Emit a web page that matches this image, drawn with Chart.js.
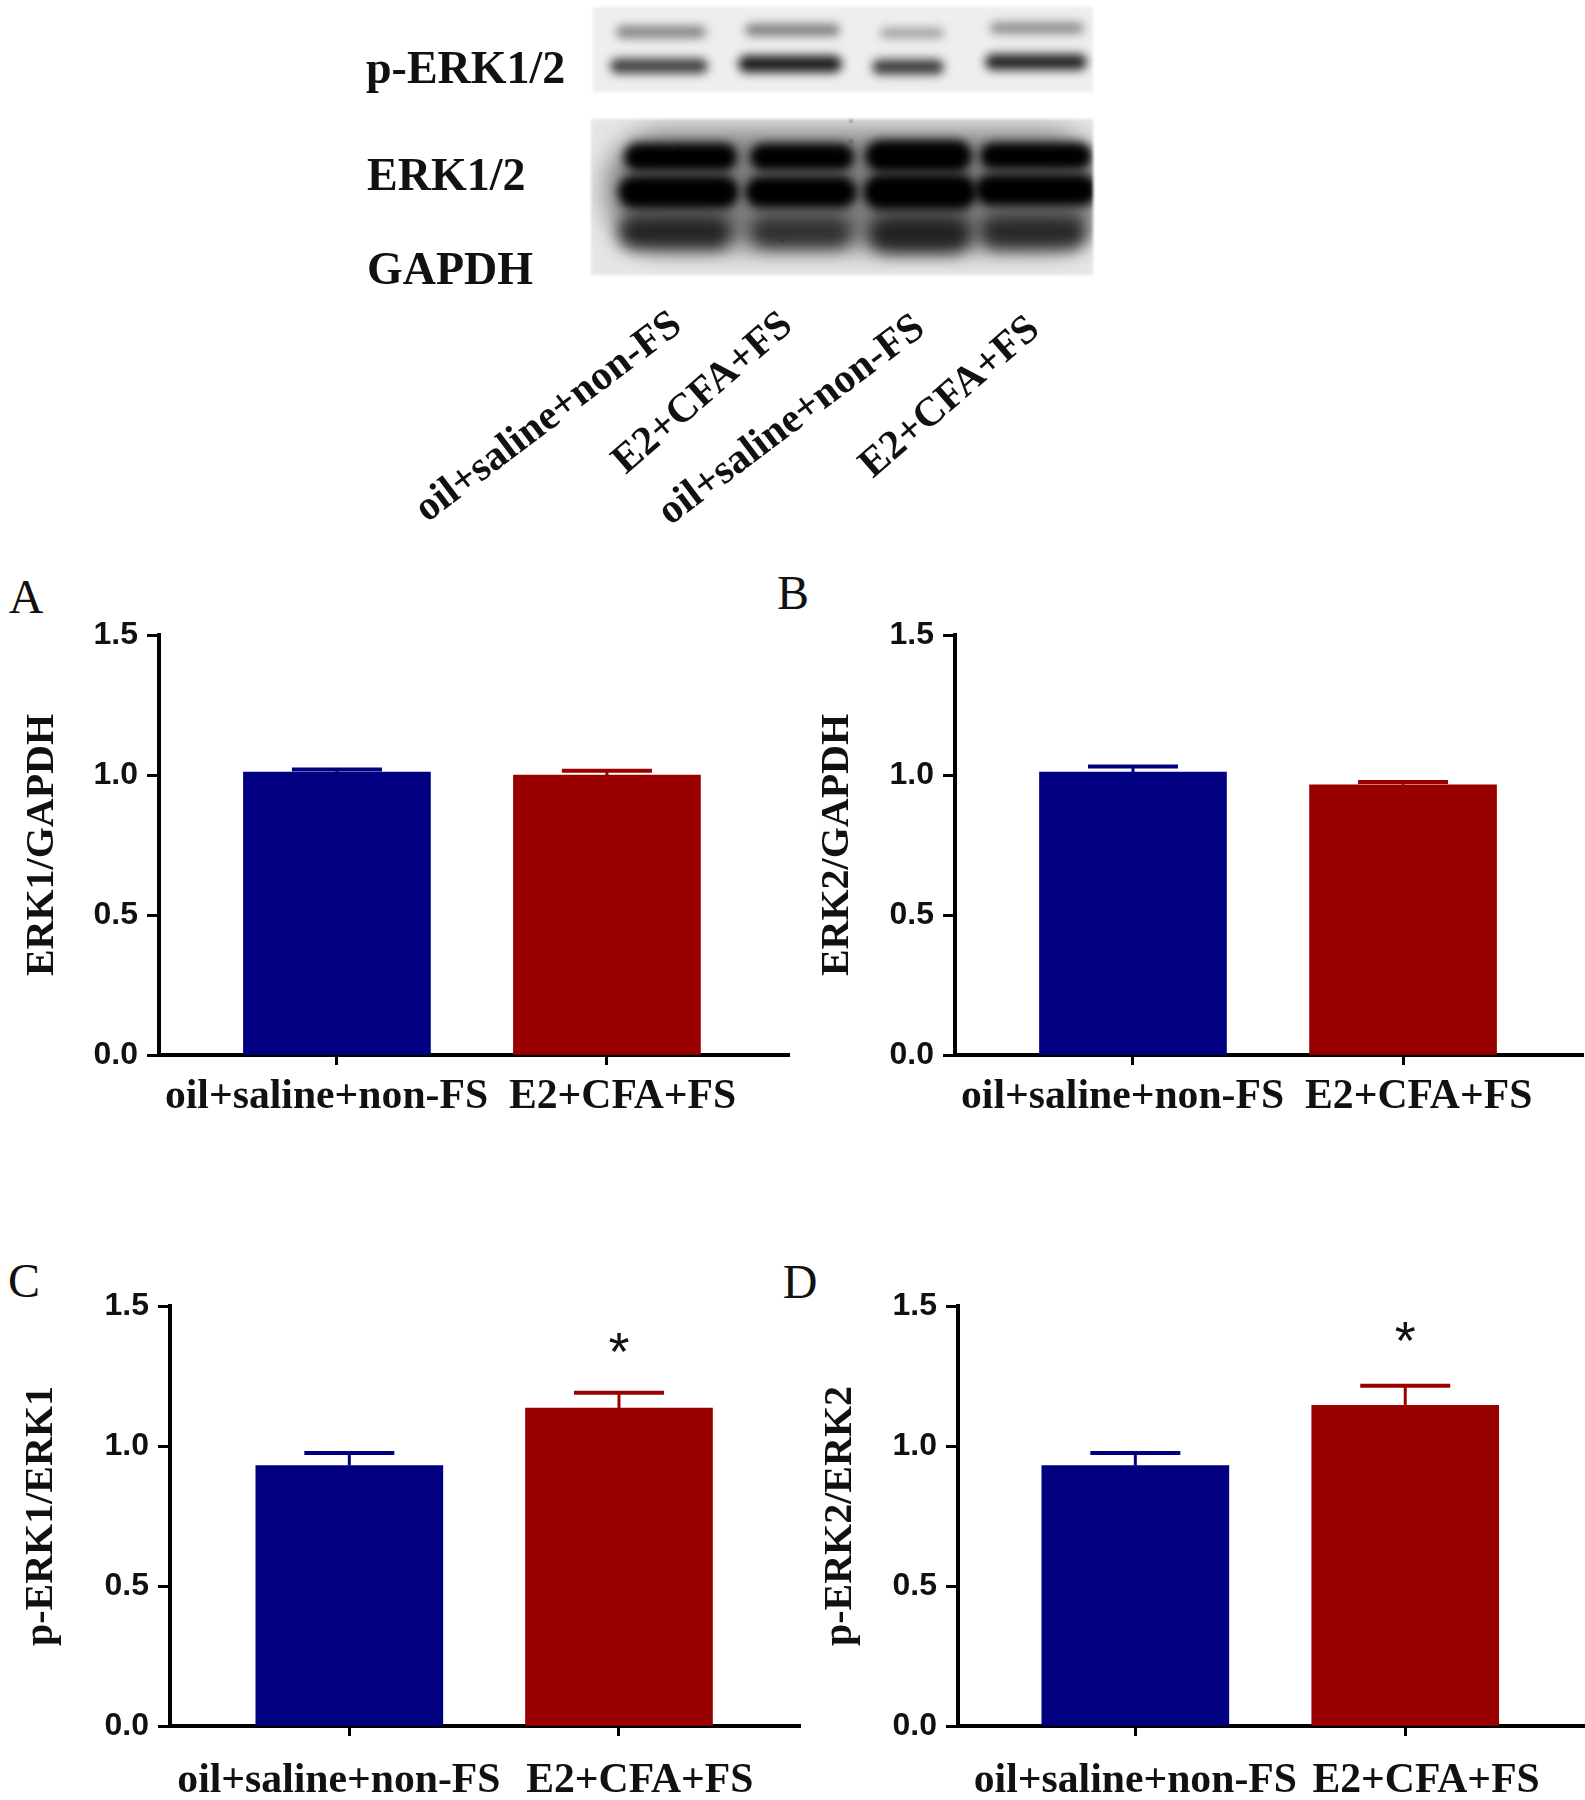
<!DOCTYPE html>
<html>
<head>
<meta charset="utf-8">
<title>ERK blots</title>
<script src="https://cdn.jsdelivr.net/npm/chart.js@4"></script>
<style>
  body { margin: 0; background: #fff; width: 1585px; height: 1800px; position: relative; overflow: hidden; }
  canvas { position: absolute; }
  .letter { position: absolute; font: 48px "Liberation Serif"; color: #111; transform: translate(-50%, -50%); }
  .blotName { position: absolute; font: bold 46px "Liberation Serif"; color: #111; transform: translateY(-50%); white-space: nowrap; }
  .lane { position: absolute; font: bold 41.5px "Liberation Serif"; color: #111; white-space: nowrap; transform: translate(-50%, -50%) rotate(-37deg); }
  .lane.short { font-size: 41px; transform: translate(-50%, -50%) rotate(-41deg); }
</style>
</head>
<body>
<canvas id="blot" width="1585" height="300" style="left:0;top:0;filter:blur(1.5px)"></canvas>

<div class="blotName" style="left:366px;top:67px">p-ERK1/2</div>
<div class="blotName" style="left:367px;top:174px">ERK1/2</div>
<div class="blotName" style="left:367px;top:268px">GAPDH</div>

<div class="lane" style="left:547px;top:415px">oil+saline+non-FS</div>
<div class="lane short" style="left:701px;top:391px">E2+CFA+FS</div>
<div class="lane" style="left:790px;top:418px">oil+saline+non-FS</div>
<div class="lane short" style="left:948px;top:395px">E2+CFA+FS</div>

<div class="letter" style="left:26px;top:596px">A</div>
<div class="letter" style="left:793px;top:592px">B</div>
<div class="letter" style="left:24px;top:1280px">C</div>
<div class="letter" style="left:800px;top:1281px">D</div>

<canvas id="chartA" width="771" height="520" style="left:19px;top:600px"></canvas>
<canvas id="chartB" width="770" height="520" style="left:814px;top:600px"></canvas>
<canvas id="chartC" width="783" height="530" style="left:18px;top:1270px"></canvas>
<canvas id="chartD" width="768" height="530" style="left:817px;top:1270px"></canvas>

<script>
const categories = ['oil+saline+non-FS', 'E2+CFA+FS'];
const yTicks = [0, 0.5, 1, 1.5];
const barColors = ['#000080', '#990000'];

// means and top of the error bar
const erk1Gapdh = [1.01, 1.00];
const erk1GapdhTop = [1.02, 1.015];
const erk2Gapdh = [1.01, 0.965];
const erk2GapdhTop = [1.03, 0.975];
const pErk1 = [0.93, 1.135];
const pErk1Top = [0.975, 1.19];
const pErk2 = [0.93, 1.145];
const pErk2Top = [0.975, 1.215];

const errorBars = {
    id: 'errorBars',
    afterDatasetsDraw(chart, args, opts) {
        const ctx = chart.ctx;
        const x = chart.scales.x;
        const y = chart.scales.y;
        ctx.save();
        opts.means.forEach(function (m, i) {
            const px = x.getPixelForValue(i);
            ctx.strokeStyle = barColors[i];
            ctx.lineWidth = 3;
            ctx.beginPath();
            ctx.moveTo(px, y.getPixelForValue(m));
            ctx.lineTo(px, y.getPixelForValue(opts.tops[i]));
            ctx.stroke();
            ctx.lineWidth = 4;
            ctx.beginPath();
            ctx.moveTo(px - 45, y.getPixelForValue(opts.tops[i]));
            ctx.lineTo(px + 45, y.getPixelForValue(opts.tops[i]));
            ctx.stroke();
        });
        // significance star
        if (opts.star) {
            ctx.fillStyle = '#111';
            ctx.font = '54px "Liberation Sans"';
            ctx.textAlign = 'center';
            ctx.textBaseline = 'middle';
            ctx.fillText('*', x.getPixelForValue(1), y.getPixelForValue(opts.star) + 10);
        }
        ctx.restore();
    }
};

function barChart(id, title, means, tops, cfg) {
    const points = means.map(function (m, i) { return { x: i, y: m }; });
    new Chart(document.getElementById(id), {
        type: 'bar',
        data: {
            datasets: [{
                data: points,
                backgroundColor: barColors,
                barThickness: 187
            }]
        },
        options: {
            responsive: false,
            animation: false,
            layout: { autoPadding: false, padding: { top: cfg.top, right: 0, left: 0, bottom: 0 } },
            plugins: {
                legend: { display: false },
                tooltip: { enabled: false },
                errorBars: { means: means, tops: tops, star: cfg.star }
            },
            scales: {
                x: {
                    type: 'linear',
                    offset: false,
                    min: cfg.xMin,
                    max: cfg.xMax,
                    afterBuildTicks: function (scale) {
                        scale.ticks = [{ value: 0 }, { value: 1 }];
                    },
                    afterFit: function (scale) { scale.height = cfg.xHeight; },
                    border: { color: '#000', width: 4 },
                    grid: { offset: false, drawOnChartArea: false, color: '#000', tickColor: '#000', tickWidth: 3, tickLength: 10 },
                    ticks: {
                        autoSkip: false,
                        maxRotation: 0,
                        padding: cfg.xPad,
                        color: '#111',
                        font: { family: 'Liberation Serif', size: 41.7, weight: 'bold' },
                        // the labels sit a little off their ticks in the figure
                        callback: function (v) {
                            return ' '.repeat(cfg.lead[v]) + categories[v] + ' '.repeat(cfg.trail[v]);
                        }
                    }
                },
                y: {
                    min: 0,
                    max: 1.5,
                    afterBuildTicks: function (scale) {
                        scale.ticks = yTicks.map(function (v) { return { value: v }; });
                    },
                    afterFit: function (scale) { scale.width = cfg.yWidth; },
                    border: { color: '#000', width: 4 },
                    grid: { drawOnChartArea: false, color: '#000', tickColor: '#000', tickWidth: 3, tickLength: 12 },
                    ticks: {
                        padding: 9,
                        color: '#111',
                        font: { family: 'Liberation Sans', size: 32, weight: 'bold' },
                        callback: function (v) { return v.toFixed(1); }
                    },
                    title: {
                        display: true,
                        text: title,
                        padding: 0,
                        color: '#111',
                        font: { family: 'Liberation Serif', size: 40, weight: 'bold' }
                    }
                }
            }
        },
        plugins: [errorBars]
    });
}

barChart('chartA', 'ERK1/GAPDH', erk1Gapdh, erk1GapdhTop,
    { top: 35, yWidth: 140, xHeight: 65, xPad: 7, xMin: -0.659, xMax: 1.678, lead: [0, 3], trail: [2, 0] });
barChart('chartB', 'ERK2/GAPDH', erk2Gapdh, erk2GapdhTop,
    { top: 35, yWidth: 141, xHeight: 65, xPad: 7, xMin: -0.659, xMax: 1.67, lead: [0, 3], trail: [2, 0] });
barChart('chartC', 'p-ERK1/ERK1', pErk1, pErk1Top,
    { top: 36, yWidth: 152, xHeight: 74, xPad: 20, xMin: -0.665, xMax: 1.675, lead: [0, 4], trail: [2, 0], star: 1.36 });
barChart('chartD', 'p-ERK2/ERK2', pErk2, pErk2Top,
    { top: 36, yWidth: 141, xHeight: 74, xPad: 20, xMin: -0.657, xMax: 1.666, lead: [0, 4], trail: [0, 0], star: 1.40 });

// western blot photo, painted as blurred bands (not chart data)
function band(ctx, x0, x1, y, h, color) {
    ctx.fillStyle = color;
    ctx.beginPath();
    ctx.roundRect(x0, y - h / 2, x1 - x0, h, h / 2);
    ctx.fill();
}

function drawBlot() {
    const ctx = document.getElementById('blot').getContext('2d');

    ctx.fillStyle = '#eeeeee';
    ctx.fillRect(593, 7, 500, 85);
    ctx.fillStyle = '#e6e6e6';
    ctx.fillRect(591, 119, 502, 156);

    ctx.save();
    ctx.beginPath();
    ctx.rect(593, 7, 500, 85);
    ctx.rect(591, 119, 502, 156);
    ctx.clip();

    // haze round the lower bands
    ctx.filter = 'blur(13px)';
    band(ctx, 605, 1105, 190, 118, '#7e7e7e');

    ctx.filter = 'blur(5px)';
    band(ctx, 616, 706, 32, 12, '#808080');
    band(ctx, 745, 840, 30, 12, '#7c7c7c');
    band(ctx, 880, 944, 33, 9, '#949494');
    band(ctx, 990, 1084, 28, 11, '#888888');
    band(ctx, 610, 708, 66, 15, '#3e3e3e');
    band(ctx, 738, 842, 64, 17, '#1c1c1c');
    band(ctx, 872, 944, 67, 15, '#3a3a3a');
    band(ctx, 985, 1087, 62, 16, '#242424');

    ctx.filter = 'blur(8px)';
    band(ctx, 618, 732, 232, 34, '#242424');
    band(ctx, 750, 852, 232, 32, '#303030');
    band(ctx, 868, 972, 234, 38, '#222222');
    band(ctx, 980, 1087, 232, 34, '#282828');

    ctx.filter = 'blur(5px)';
    band(ctx, 624, 737, 157, 28, '#000');
    band(ctx, 750, 854, 157, 27, '#000');
    band(ctx, 865, 972, 156, 32, '#000');
    band(ctx, 980, 1092, 156, 27, '#000');
    band(ctx, 618, 739, 192, 33, '#000');
    band(ctx, 745, 857, 192, 32, '#000');
    band(ctx, 863, 977, 192, 36, '#000');
    band(ctx, 975, 1097, 190, 32, '#000');
    ctx.restore();

    // specks on the membrane
    ctx.fillStyle = '#222';
    [[850, 120], [850, 140], [782, 240], [673, 148]].forEach(function (p) {
        ctx.fillRect(p[0], p[1], 2, 2);
    });
}
drawBlot();
</script>
</body>
</html>
